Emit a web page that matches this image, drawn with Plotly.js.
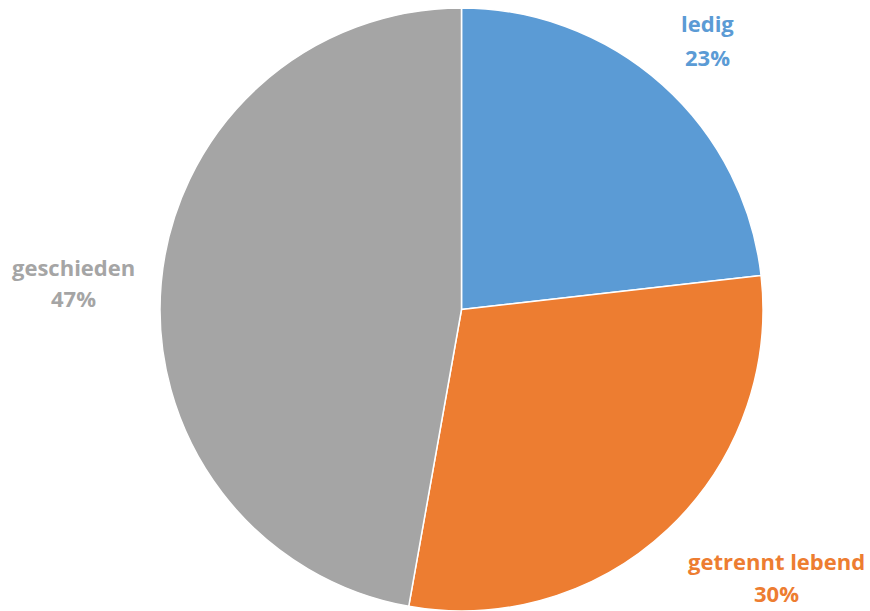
<!DOCTYPE html>
<html>
<head>
<meta charset="utf-8">
<script src="https://cdn.plot.ly/plotly-3.0.1.min.js"></script>
<style>html,body{margin:0;padding:0;background:#fff;}#chart{width:870px;height:611px;}</style>
</head>
<body>
<div id="chart"></div>
<script>
const categories = ["ledig", "getrennt lebend", "geschieden"];
const values = [23.2, 29.6, 47.2];
const colors = ["#5B9BD5", "#ED7D31", "#A5A5A5"];
// label placement (pixels) for name and percent lines
const labelPos = [
  {x: 707, yName: 23, yPct: 57},
  {x: 776, yName: 561, yPct: 593},
  {x: 73,  yName: 267, yPct: 298}
];

const W = 870, H = 611;
const total = values.reduce((a, b) => a + b, 0);
const annotations = [];
categories.forEach((c, i) => {
  const pct = Math.round(values[i] / total * 100) + "%";
  [[c, labelPos[i].yName], [pct, labelPos[i].yPct]].forEach(([t, y]) => {
    annotations.push({
      text: "<b>" + t + "</b>",
      x: labelPos[i].x / W, y: 1 - y / H,
      xref: "paper", yref: "paper",
      xanchor: "center", yanchor: "middle",
      showarrow: false,
      font: {family: "Open Sans, sans-serif", size: 22, color: colors[i]}
    });
  });
});

const cx = 461.5, cy = 310, r = 302;
Plotly.newPlot("chart", [{
  type: "pie",
  labels: categories,
  values: values,
  sort: false,
  direction: "clockwise",
  rotation: 0,
  marker: {colors: colors, line: {color: "#ffffff", width: 1.5}},
  textinfo: "none",
  hoverinfo: "label+percent",
  showlegend: false,
  domain: {x: [(cx - r) / W, (cx + r) / W], y: [1 - (cy + r) / H, 1 - (cy - r) / H]}
}], {
  width: W, height: H,
  margin: {l: 0, r: 0, t: 0, b: 0},
  paper_bgcolor: "#ffffff",
  showlegend: false,
  annotations: annotations
}, {displayModeBar: false, staticPlot: true});
</script>
</body>
</html>
